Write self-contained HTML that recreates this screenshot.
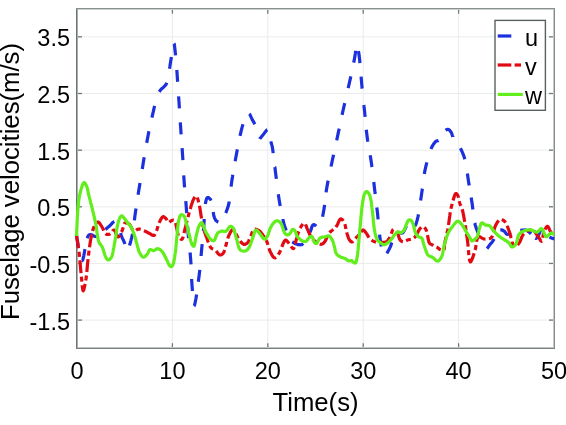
<!DOCTYPE html>
<html><head><meta charset="utf-8"><style>
html,body{margin:0;padding:0;background:#fff;}
svg{display:block;}
text{font-family:"Liberation Sans",sans-serif;fill:#000;}
svg{will-change:transform;filter:blur(0.4px);}
</style></head><body>
<svg width="566" height="425" viewBox="0 0 566 425">
<rect width="566" height="425" fill="#fff"/>
<line x1="172.40" y1="8.7" x2="172.40" y2="348.2" stroke="#eaecec" stroke-width="1"/>
<line x1="267.80" y1="8.7" x2="267.80" y2="348.2" stroke="#eaecec" stroke-width="1"/>
<line x1="363.20" y1="8.7" x2="363.20" y2="348.2" stroke="#eaecec" stroke-width="1"/>
<line x1="458.60" y1="8.7" x2="458.60" y2="348.2" stroke="#eaecec" stroke-width="1"/>
<line x1="77.0" y1="36.85" x2="554.0" y2="36.85" stroke="#eaecec" stroke-width="1"/>
<line x1="77.0" y1="93.50" x2="554.0" y2="93.50" stroke="#eaecec" stroke-width="1"/>
<line x1="77.0" y1="150.15" x2="554.0" y2="150.15" stroke="#eaecec" stroke-width="1"/>
<line x1="77.0" y1="206.80" x2="554.0" y2="206.80" stroke="#eaecec" stroke-width="1"/>
<line x1="77.0" y1="263.45" x2="554.0" y2="263.45" stroke="#eaecec" stroke-width="1"/>
<line x1="77.0" y1="320.10" x2="554.0" y2="320.10" stroke="#eaecec" stroke-width="1"/>
<line x1="77.00" y1="348.2" x2="77.00" y2="343.2" stroke="#737979" stroke-width="1.3"/>
<line x1="77.00" y1="8.7" x2="77.00" y2="13.7" stroke="#737979" stroke-width="1.3"/>
<line x1="172.40" y1="348.2" x2="172.40" y2="343.2" stroke="#737979" stroke-width="1.3"/>
<line x1="172.40" y1="8.7" x2="172.40" y2="13.7" stroke="#737979" stroke-width="1.3"/>
<line x1="267.80" y1="348.2" x2="267.80" y2="343.2" stroke="#737979" stroke-width="1.3"/>
<line x1="267.80" y1="8.7" x2="267.80" y2="13.7" stroke="#737979" stroke-width="1.3"/>
<line x1="363.20" y1="348.2" x2="363.20" y2="343.2" stroke="#737979" stroke-width="1.3"/>
<line x1="363.20" y1="8.7" x2="363.20" y2="13.7" stroke="#737979" stroke-width="1.3"/>
<line x1="458.60" y1="348.2" x2="458.60" y2="343.2" stroke="#737979" stroke-width="1.3"/>
<line x1="458.60" y1="8.7" x2="458.60" y2="13.7" stroke="#737979" stroke-width="1.3"/>
<line x1="554.00" y1="348.2" x2="554.00" y2="343.2" stroke="#737979" stroke-width="1.3"/>
<line x1="554.00" y1="8.7" x2="554.00" y2="13.7" stroke="#737979" stroke-width="1.3"/>
<line x1="77.0" y1="36.85" x2="82.0" y2="36.85" stroke="#737979" stroke-width="1.3"/>
<line x1="554.0" y1="36.85" x2="549.0" y2="36.85" stroke="#737979" stroke-width="1.3"/>
<line x1="77.0" y1="93.50" x2="82.0" y2="93.50" stroke="#737979" stroke-width="1.3"/>
<line x1="554.0" y1="93.50" x2="549.0" y2="93.50" stroke="#737979" stroke-width="1.3"/>
<line x1="77.0" y1="150.15" x2="82.0" y2="150.15" stroke="#737979" stroke-width="1.3"/>
<line x1="554.0" y1="150.15" x2="549.0" y2="150.15" stroke="#737979" stroke-width="1.3"/>
<line x1="77.0" y1="206.80" x2="82.0" y2="206.80" stroke="#737979" stroke-width="1.3"/>
<line x1="554.0" y1="206.80" x2="549.0" y2="206.80" stroke="#737979" stroke-width="1.3"/>
<line x1="77.0" y1="263.45" x2="82.0" y2="263.45" stroke="#737979" stroke-width="1.3"/>
<line x1="554.0" y1="263.45" x2="549.0" y2="263.45" stroke="#737979" stroke-width="1.3"/>
<line x1="77.0" y1="320.10" x2="82.0" y2="320.10" stroke="#737979" stroke-width="1.3"/>
<line x1="554.0" y1="320.10" x2="549.0" y2="320.10" stroke="#737979" stroke-width="1.3"/>
<rect x="76" y="8" width="1" height="341" fill="#6e7474"/>
<rect x="77" y="9" width="1" height="339" fill="#a8aeae"/>
<rect x="554" y="8" width="1" height="341" fill="#868c8c"/>
<rect x="553" y="9" width="1" height="339" fill="#c4c8c8"/>
<rect x="76" y="8" width="479" height="1" fill="#8a9090"/>
<rect x="78" y="9" width="475" height="1" fill="#ccd0d0"/>
<rect x="76" y="348" width="479" height="1" fill="#7a8080"/>
<rect x="78" y="347" width="475" height="1" fill="#c0c4c4"/>
<path d="M76.5,235.0 L76.8,237.1 L77.1,239.2 L77.5,241.3 L77.8,243.4 L78.1,245.3 L78.4,246.9 M82.1,260.4 L82.3,260.5 L82.6,260.2 L82.9,259.5 L83.1,258.5 L83.4,257.3 L83.7,256.1 L83.9,255.0 L84.2,253.6 L84.5,252.1 L84.7,250.6 L85.0,249.1 M87.1,238.2 L87.3,237.8 L87.6,237.1 L87.9,236.4 L88.2,235.8 L88.6,235.4 L89.0,235.0 L89.4,234.8 L89.7,234.7 L90.1,234.7 L90.5,234.7 L91.0,234.7 L91.4,234.8 L92.0,235.0 L92.6,235.3 L93.2,235.7 L93.8,236.0 L94.4,236.3 L95.0,236.5 L95.5,236.5 L96.0,236.5 L96.5,236.5 L96.8,236.4 M105.4,229.5 L105.8,229.2 L106.5,228.5 L107.1,228.0 L107.7,227.5 L108.3,227.0 L108.9,226.5 L109.4,226.0 L110.0,225.5 L110.6,224.9 L111.2,224.3 L111.8,223.6 L112.3,223.0 L112.9,222.4 L113.5,222.0 L113.9,221.7 L114.3,221.5 M120.6,233.0 L121.0,234.4 L121.5,236.0 L122.0,237.3 L122.6,238.6 L123.2,239.8 L123.7,241.0 L124.3,242.3 L124.8,243.5 L125.0,244.1 M129.5,245.5 L129.8,244.5 L130.2,243.2 L130.6,241.8 L131.0,240.3 L131.3,238.9 L131.7,237.4 L132.0,236.0 L132.3,234.7 L132.5,233.9 M134.4,220.4 L134.5,219.6 L134.8,217.0 L135.2,214.0 L136.0,208.5 M138.1,194.8 L138.6,191.4 L140.0,183.0 M142.3,169.0 L143.4,161.8 L144.2,157.2 M146.7,142.9 L147.8,137.0 L148.8,131.9 L149.0,131.2 M151.9,117.6 L152.4,115.4 L153.3,111.7 L153.9,108.9 L154.5,106.3 L154.6,105.9 M159.3,91.9 L159.9,90.9 L160.5,90.0 L161.0,89.4 L161.4,89.0 L161.9,88.6 L162.4,88.2 L162.9,87.8 L163.4,87.3 L163.9,86.7 L164.5,86.2 L165.0,85.6 L165.6,85.0 L166.1,84.3 L166.5,83.5 L166.8,82.7 M169.5,68.8 L169.8,67.1 L170.1,65.0 L170.4,63.0 L170.7,61.0 L171.1,58.9 L171.4,57.0 M174.0,43.5 L174.2,43.8 L174.4,44.6 L174.5,45.8 L174.7,47.2 L174.8,48.8 L175.0,50.3 L175.4,53.6 L175.5,55.4 M176.7,69.9 L176.9,71.2 L177.2,75.7 L177.5,80.1 L177.7,81.8 M178.6,96.4 L178.7,97.8 L179.0,102.2 L179.3,106.5 L179.4,108.4 M180.3,122.4 L180.4,123.9 L180.7,128.2 L181.0,132.5 L181.1,134.4 M182.1,148.2 L182.2,149.7 L182.5,154.0 L182.8,158.5 L182.9,160.2 M183.7,175.3 L183.8,176.5 L184.1,181.0 L184.4,185.3 L184.6,187.3 M185.8,201.2 L185.9,202.3 L186.2,206.5 L186.5,210.7 L186.7,213.2 M187.5,226.0 L187.7,227.7 L188.0,232.0 L188.4,236.4 L188.6,238.0 M190.1,252.5 L190.2,254.0 L190.6,258.4 L190.9,262.9 L191.0,264.4 M191.6,279.0 L191.7,280.7 L192.0,285.0 L192.3,289.1 L192.4,291.0 M194.0,306.0 L194.2,305.8 L194.4,305.3 L194.7,304.5 L194.9,303.5 L195.2,302.4 L195.4,301.3 L196.0,298.2 L196.6,294.4 M198.3,281.8 L198.5,280.3 L199.1,275.8 L199.6,271.5 L199.8,269.9 M201.1,256.0 L201.2,254.3 L201.6,250.0 L202.0,245.7 L202.2,244.1 M203.4,231.0 L203.6,228.8 L203.9,224.7 L204.1,221.0 L204.2,219.0 M205.3,204.0 L205.6,202.6 L205.9,201.1 L206.2,199.8 L206.6,198.7 L207.0,197.9 L207.5,197.5 L207.9,197.5 L208.5,197.6 L209.0,198.0 L209.5,198.4 L210.1,198.9 L210.5,199.5 L211.0,200.6 M213.2,211.9 L213.4,213.2 L213.7,214.9 L214.0,216.4 L214.5,217.8 L215.0,219.0 L215.5,219.8 L216.0,220.5 L216.7,221.1 L217.3,221.6 L217.9,222.0 L218.3,222.2 M225.7,213.0 L226.2,211.9 L226.8,210.3 L227.4,208.6 L228.0,206.9 L228.5,205.0 L229.0,203.0 L229.3,201.5 M231.1,186.6 L231.3,184.9 L231.8,181.0 L232.5,176.8 L232.8,174.7 M235.2,161.2 L235.5,159.3 L236.3,155.0 L237.1,150.6 L237.4,149.4 M240.0,135.8 L240.7,133.0 L241.5,129.5 L242.0,127.6 L242.5,125.9 L243.0,124.2 M249.1,113.9 L249.6,114.3 L250.2,115.1 L250.7,116.1 L251.2,117.3 L251.7,118.4 L252.2,119.5 L252.7,120.5 L253.3,121.4 L253.8,122.3 L254.3,123.3 L254.8,124.3 M259.7,138.9 L259.8,138.7 L260.7,137.8 L261.6,136.6 L262.5,135.5 L263.3,134.5 L264.0,133.7 L264.6,132.8 L265.2,132.0 L265.8,131.2 L266.4,130.5 L266.9,130.0 L267.2,129.8 L267.4,129.7 M270.8,141.4 L271.1,142.4 L271.3,143.3 L271.6,144.1 L271.8,144.9 L272.1,145.9 L272.3,147.0 L272.8,150.1 L273.2,153.1 M274.8,167.0 L274.9,167.1 L275.4,171.5 L276.0,176.1 L276.3,178.9 M278.3,194.2 L278.4,194.9 L279.1,199.5 L279.8,203.8 L280.2,206.0 M282.8,219.0 L283.2,220.7 L284.1,224.2 L284.7,226.3 L285.4,228.3 L286.0,230.1 L286.1,230.5 M292.3,241.8 L292.5,241.9 L293.3,242.6 L294.2,243.1 L295.1,243.6 L296.0,244.0 L297.0,244.3 L298.0,244.6 L299.1,244.7 L300.2,244.8 L301.2,244.7 L302.1,244.4 L302.9,243.8 L303.2,243.5 M309.9,232.4 L310.5,231.0 L311.1,229.4 L311.6,227.8 L312.1,226.3 L312.7,225.2 L313.4,224.6 L314.0,224.6 L314.6,224.9 L315.2,225.3 L315.8,225.8 L316.2,226.2 M322.6,216.8 L322.9,215.0 L323.5,211.8 L324.2,207.9 L324.6,204.9 M326.1,192.4 L326.3,190.8 L327.0,186.5 L327.8,182.1 L328.1,180.6 M331.0,166.5 L331.5,164.4 L332.4,160.0 L333.3,155.8 L333.5,154.8 M336.7,140.4 L337.0,138.9 L337.9,134.7 L338.8,130.4 L339.2,128.6 M342.1,114.9 L342.5,112.9 L343.5,108.5 L344.5,104.1 L344.7,103.2 M348.2,88.1 L348.5,86.7 L349.5,82.4 L350.5,77.9 L350.8,76.4 M353.7,62.6 L354.2,60.2 L354.8,57.0 L355.0,55.8 L355.1,54.7 L355.3,53.8 L355.4,52.9 L355.5,52.0 L355.6,51.0 L355.6,50.7 M358.4,51.2 L358.6,52.0 L358.7,52.9 L358.9,53.8 L359.0,54.7 L359.1,55.8 L359.3,57.0 L359.7,60.3 L359.9,63.1 M361.1,76.7 L361.3,79.0 L361.7,83.7 L362.1,88.2 L362.2,88.6 M363.9,105.0 L364.0,106.2 L364.5,110.6 L364.9,114.8 L365.1,116.9 M366.3,129.8 L366.5,131.6 L367.0,135.8 L367.6,140.2 L367.9,141.7 M370.2,155.2 L370.6,157.8 L371.3,162.2 L371.9,166.6 L372.0,167.0 M373.8,182.0 L374.0,184.0 L374.5,188.3 L375.0,192.6 L375.2,193.9 M376.8,207.5 L377.1,209.7 L377.6,214.0 L378.0,218.4 L378.1,219.4 M379.6,234.7 L379.7,236.0 L380.3,240.0 L380.8,243.2 L381.3,246.6 M386.8,253.3 L387.7,251.9 L388.6,250.3 L389.4,248.8 L390.1,247.4 L390.7,245.9 L391.2,244.4 L391.7,242.9 L391.9,242.5 M398.6,232.8 L398.7,232.8 L399.5,232.9 L400.2,233.0 L401.0,233.2 L401.7,233.2 L402.4,233.0 L403.3,232.2 L404.1,230.9 L404.8,229.3 L405.6,227.7 L406.3,226.2 L406.4,226.0 M414.9,225.8 L415.1,225.7 L415.6,224.9 L416.0,223.9 L416.4,222.7 L416.8,221.4 L417.2,220.0 L418.0,216.7 L418.5,214.4 M420.6,200.5 L421.0,197.9 L421.7,193.3 L422.3,189.1 L422.4,188.6 M424.4,174.0 L424.6,172.3 L425.4,168.4 L426.2,164.9 L426.9,162.3 M431.0,149.0 L431.5,147.8 L432.0,146.8 L432.5,145.9 L433.0,145.0 L433.5,144.2 L434.0,143.5 L434.4,143.0 L434.8,142.5 L435.2,142.0 L435.6,141.6 L436.0,141.3 L436.4,141.0 L436.7,140.9 L437.1,140.8 L437.5,140.8 L437.8,140.7 L438.2,140.7 L438.5,140.5 L438.5,140.5 M445.5,130.2 L446.0,129.9 L446.5,129.7 L447.0,129.5 L447.5,129.4 L448.0,129.4 L448.5,129.5 L449.0,129.7 L449.4,130.0 L449.8,130.4 L450.2,130.9 L450.6,131.5 L451.0,132.0 L451.4,132.8 L451.8,133.7 L452.1,134.7 L452.5,135.8 L452.9,136.8 L452.9,136.9 M460.4,148.2 L461.2,149.8 L462.0,151.5 L462.8,153.4 L463.6,155.3 L464.3,157.4 L464.9,159.3 M467.4,173.6 L467.8,176.4 L468.3,180.0 L468.9,183.9 L469.2,185.5 M471.2,197.6 L471.6,200.2 L472.2,204.0 L472.6,207.3 L472.9,209.4 M474.7,223.0 L474.8,223.2 L475.0,224.2 L475.3,225.2 L475.6,226.1 L475.9,227.0 L476.2,228.0 L476.6,229.1 L477.1,230.3 L477.5,231.4 L478.0,232.6 L478.5,233.8 L478.7,234.3 M487.0,248.6 L487.7,247.8 L488.4,246.7 L489.2,245.6 L489.9,244.7 L490.5,243.9 L491.2,243.2 L491.8,242.5 L492.4,241.7 L492.9,240.9 L493.5,240.0 L494.1,238.9 M500.3,229.8 L500.9,229.8 L501.5,229.9 L502.2,230.1 L502.8,230.3 L503.4,230.7 L504.0,231.0 L504.6,231.5 L505.1,232.2 L505.6,232.9 L506.1,233.6 L506.6,234.1 L507.2,234.4 L507.9,234.3 L508.7,234.0 L509.4,233.5 L510.1,233.0 M520.4,230.6 L521.1,230.4 L522.3,230.2 L523.5,230.0 L524.6,229.9 L525.6,230.0 L526.3,230.2 L526.8,230.5 L527.4,230.8 L527.9,231.2 L528.5,231.6 L529.0,232.0 L529.7,232.6 L530.4,233.2 L531.0,233.9 M535.3,238.3 L535.5,238.4 L536.0,238.5 L536.5,238.2 L537.1,237.6 L537.6,236.8 L538.0,235.9 L538.5,234.9 L539.0,234.0 L539.5,232.9 L540.0,231.5 L540.5,230.1 L540.9,228.8 L541.0,228.6 M549.6,236.9 L550.3,237.4 L550.9,237.8 L551.6,238.1 L552.3,238.3 L553.0,238.5 L553.6,238.8 L554.3,239.0" fill="none" stroke="#1c30de" stroke-width="3.2" stroke-linejoin="round"/>
<polyline points="76.5,235.5 76.9,238.2 77.3,240.9 77.8,243.5 78.2,246.2 78.6,249.0 79.0,252.0 79.5,256.1 79.9,260.6 80.3,265.2 80.7,269.8 81.1,274.1 81.5,278.0 81.8,280.7 82.0,283.5 82.3,286.3 82.6,288.6 82.9,290.2 83.2,290.8 83.5,290.4 83.9,289.4 84.3,287.8 84.7,286.0 85.1,284.0 85.5,282.0 86.1,278.3 86.6,273.9 87.1,269.0 87.5,264.1 88.0,259.3 88.5,255.0 88.9,251.9 89.3,248.9 89.7,246.0 90.1,243.2 90.5,240.6 91.0,238.0 91.4,236.0 91.8,234.0 92.3,232.0 92.8,230.2 93.3,228.5 94.0,227.0 94.6,225.9 95.2,224.8 95.9,223.7 96.6,222.8 97.3,222.2 98.0,222.0 98.7,222.2 99.3,222.9 100.0,223.8 100.7,224.9 101.4,226.0 102.0,227.0 102.7,228.2 103.3,229.5 103.9,230.9 104.5,232.2 105.2,233.3 106.0,234.0 106.6,234.3 107.3,234.4 108.0,234.4 108.7,234.4 109.4,234.2 110.0,234.0 110.7,233.5 111.4,232.7 112.1,231.7 112.7,230.8 113.4,230.2 114.0,230.0 114.7,230.6 115.4,231.9 116.0,233.6 116.7,235.2 117.3,236.5 118.0,237.0 118.7,236.7 119.4,236.0 120.1,234.8 120.7,233.6 121.4,232.2 122.0,231.0 122.5,229.6 123.0,228.0 123.4,226.4 123.8,224.9 124.3,223.7 125.0,223.0 125.6,222.8 126.2,222.8 126.9,223.0 127.6,223.2 128.3,223.6 129.0,224.0 129.9,224.9 130.7,226.3 131.5,227.8 132.3,229.2 133.1,230.4 134.0,231.0 134.7,231.0 135.5,230.7 136.2,230.2 137.0,229.6 137.8,229.2 138.6,229.0 139.5,229.1 140.4,229.3 141.4,229.6 142.3,230.0 143.3,230.4 144.2,230.8 145.2,231.2 146.2,231.7 147.1,232.2 148.1,232.8 149.0,233.2 149.9,233.7 150.6,234.1 151.3,234.5 151.9,235.0 152.6,235.3 153.1,235.5 153.7,235.5 154.3,235.2 154.8,234.5 155.2,233.7 155.7,232.8 156.1,231.8 156.5,230.8 157.0,229.5 157.4,228.1 157.9,226.6 158.3,225.1 158.7,223.7 159.3,222.4 159.9,221.2 160.5,220.0 161.1,218.8 161.8,217.8 162.4,217.1 163.1,216.7 163.6,216.7 164.0,216.9 164.5,217.3 165.0,217.7 165.5,218.2 165.9,218.6 166.4,219.2 166.9,220.0 167.3,220.8 167.7,221.6 168.2,222.1 168.7,222.4 169.2,222.3 169.6,222.0 170.1,221.6 170.6,221.2 171.1,220.8 171.6,220.5 172.1,220.4 172.6,220.3 173.1,220.2 173.6,220.2 174.0,220.3 174.4,220.5 174.9,221.0 175.2,221.8 175.5,222.8 175.8,223.8 176.0,225.0 176.3,226.1 176.7,227.9 177.1,229.9 177.5,232.1 177.9,234.2 178.5,236.1 179.1,237.4 179.5,238.0 180.0,238.5 180.5,238.9 181.0,239.2 181.5,239.3 181.9,239.3 182.5,238.7 183.0,237.4 183.5,235.7 183.9,233.7 184.3,231.7 184.7,229.9 185.2,228.1 185.7,226.2 186.1,224.4 186.6,222.5 187.1,220.5 187.6,218.6 188.2,216.4 188.8,214.1 189.4,211.8 190.0,209.5 190.7,207.4 191.3,205.4 191.7,204.1 192.2,202.8 192.6,201.6 193.0,200.4 193.5,199.4 194.0,198.5 194.4,197.9 194.7,197.3 195.1,196.8 195.5,196.3 195.8,196.1 196.2,196.0 196.7,196.4 197.2,197.4 197.7,198.8 198.2,200.4 198.6,202.1 199.0,203.7 199.5,206.0 200.0,208.5 200.4,211.2 200.8,213.9 201.2,216.5 201.6,219.0 202.0,221.0 202.4,222.9 202.7,224.7 203.1,226.6 203.5,228.3 204.0,230.0 204.4,231.4 204.8,232.6 205.3,233.9 205.7,235.1 206.2,236.4 206.7,237.7 207.3,239.4 207.9,241.3 208.6,243.2 209.3,245.0 210.1,246.6 211.0,247.8 211.6,248.4 212.3,248.7 213.0,249.0 213.8,249.3 214.5,249.6 215.2,250.0 216.0,250.8 216.8,251.8 217.6,252.9 218.4,253.9 219.2,254.6 220.0,255.0 220.6,255.0 221.1,254.9 221.7,254.6 222.2,254.2 222.7,253.8 223.2,253.3 223.8,252.3 224.3,251.1 224.8,249.6 225.2,248.0 225.6,246.5 226.0,245.0 226.4,243.6 226.8,242.1 227.1,240.6 227.5,239.2 228.0,237.8 228.5,236.4 229.1,235.0 229.9,233.4 230.7,231.8 231.5,230.5 232.3,229.6 233.0,229.2 233.5,229.4 234.0,230.1 234.5,231.0 235.0,232.0 235.5,233.1 236.0,234.0 236.5,234.9 237.0,235.8 237.4,236.7 237.9,237.6 238.4,238.5 239.0,239.4 239.7,240.4 240.5,241.4 241.4,242.5 242.3,243.4 243.2,244.1 244.0,244.4 244.6,244.4 245.2,244.3 245.8,244.0 246.3,243.7 246.9,243.3 247.4,242.8 248.1,242.0 248.7,240.9 249.2,239.7 249.7,238.5 250.3,237.2 250.8,236.0 251.3,234.8 251.8,233.4 252.3,232.0 252.9,230.8 253.5,229.8 254.2,229.2 255.0,229.1 255.8,229.2 256.7,229.5 257.6,229.9 258.5,230.4 259.3,230.9 260.0,231.4 260.6,232.1 261.2,232.8 261.7,233.5 262.3,234.3 262.8,235.0 263.4,235.8 264.0,236.5 264.5,237.3 265.1,238.2 265.7,239.1 266.2,240.1 266.9,241.8 267.6,243.8 268.2,246.0 268.9,248.2 269.6,250.2 270.4,252.0 271.1,253.3 271.7,254.6 272.5,255.8 273.2,256.9 274.0,257.6 274.7,257.9 275.4,257.8 276.1,257.3 276.8,256.6 277.5,255.7 278.2,254.7 278.9,253.7 279.8,252.0 280.8,249.8 281.6,247.5 282.5,245.2 283.3,243.2 284.0,241.8 284.3,241.4 284.6,241.0 284.8,240.6 285.1,240.3 285.4,240.2 285.7,240.1 286.2,240.3 286.7,240.7 287.3,241.3 287.9,242.0 288.5,242.8 289.1,243.5 289.8,244.4 290.5,245.5 291.3,246.7 292.0,247.7 292.7,248.4 293.3,248.6 293.9,248.2 294.3,247.2 294.7,245.8 295.1,244.2 295.5,242.5 295.9,241.0 296.5,239.0 297.2,236.7 297.8,234.4 298.5,232.1 299.3,230.0 300.1,228.2 300.8,227.0 301.5,225.9 302.2,224.8 302.9,223.9 303.6,223.3 304.3,223.1 304.9,223.5 305.5,224.4 306.0,225.7 306.6,227.1 307.1,228.6 307.7,229.9 308.4,231.3 309.0,232.8 309.7,234.3 310.4,235.8 311.2,237.2 312.0,238.4 312.8,239.3 313.6,240.1 314.5,240.8 315.4,241.5 316.2,242.1 317.1,242.6 317.8,243.0 318.5,243.4 319.2,243.8 320.0,244.1 320.6,244.3 321.3,244.3 321.9,244.1 322.5,243.9 323.1,243.5 323.6,243.0 324.2,242.4 324.7,241.8 325.4,240.7 326.1,239.3 326.7,237.8 327.3,236.2 328.0,234.6 328.9,233.3 329.9,232.2 331.0,231.2 332.3,230.3 333.5,229.4 334.6,228.5 335.7,227.4 336.7,225.9 337.6,224.2 338.4,222.3 339.2,220.7 340.0,219.4 340.8,218.9 341.4,219.0 342.0,219.4 342.6,220.0 343.2,220.7 343.7,221.5 344.2,222.3 344.8,223.6 345.2,225.2 345.5,226.9 345.9,228.6 346.2,230.4 346.6,232.0 347.0,233.5 347.5,235.0 347.9,236.4 348.4,237.8 348.9,239.0 349.5,240.0 349.9,240.5 350.3,241.0 350.7,241.4 351.1,241.7 351.6,241.9 352.0,242.0 352.5,241.8 353.1,241.3 353.6,240.7 354.2,239.9 354.7,239.2 355.3,238.5 356.0,237.8 356.7,237.1 357.5,236.4 358.2,235.7 358.9,235.0 359.6,234.3 360.2,233.5 360.8,232.6 361.3,231.7 361.9,230.8 362.4,230.2 363.0,230.0 363.6,230.1 364.1,230.6 364.7,231.2 365.3,231.9 365.9,232.7 366.4,233.4 367.0,234.2 367.5,235.1 368.0,236.0 368.5,236.9 369.1,237.8 369.7,238.5 370.3,239.1 370.9,239.6 371.5,240.0 372.2,240.5 372.8,240.9 373.5,241.2 374.1,241.5 374.7,241.7 375.3,241.9 375.9,242.1 376.5,242.3 377.1,242.4 377.8,242.5 378.6,242.5 379.4,242.5 380.2,242.5 381.0,242.5 381.8,242.4 382.6,242.4 383.4,242.4 384.2,242.4 385.0,242.3 385.8,242.1 386.5,241.8 387.2,241.3 387.8,240.6 388.4,239.8 388.9,238.9 389.5,238.0 390.0,237.1 390.6,235.8 391.2,234.2 391.7,232.5 392.2,231.1 392.8,229.9 393.5,229.4 394.1,229.4 394.7,229.8 395.3,230.3 395.9,230.9 396.5,231.7 397.1,232.4 397.8,233.6 398.3,235.1 398.8,236.7 399.3,238.3 399.9,239.6 400.6,240.6 401.1,241.0 401.7,241.3 402.3,241.6 402.9,241.7 403.5,241.8 404.1,241.8 404.7,241.7 405.2,241.4 405.8,241.0 406.4,240.7 407.0,240.3 407.6,240.0 408.4,239.8 409.2,239.6 410.0,239.5 410.9,239.3 411.7,239.1 412.4,238.8 413.1,238.4 413.7,238.0 414.3,237.6 414.8,237.1 415.4,236.5 415.9,235.9 416.5,235.0 417.1,233.8 417.6,232.7 418.2,231.5 418.8,230.3 419.4,229.4 419.9,228.7 420.5,228.1 421.1,227.5 421.7,226.9 422.3,226.6 422.9,226.5 423.4,226.6 424.0,227.0 424.5,227.5 425.0,228.1 425.5,228.7 425.9,229.4 426.3,230.3 426.6,231.3 426.9,232.4 427.1,233.6 427.3,234.8 427.6,235.9 427.9,237.1 428.1,238.4 428.3,239.7 428.6,240.9 428.9,242.0 429.4,242.9 429.8,243.4 430.3,243.8 430.8,244.1 431.4,244.4 431.9,244.7 432.5,245.0 433.2,245.3 433.9,245.7 434.6,246.0 435.3,246.3 436.0,246.6 436.7,247.0 437.3,247.4 437.9,247.9 438.4,248.3 439.0,248.8 439.5,249.2 440.1,249.5 440.7,249.7 441.3,250.0 442.0,250.1 442.6,250.2 443.1,250.2 443.6,250.0 444.0,249.4 444.3,248.6 444.4,247.5 444.4,246.2 444.5,244.8 444.7,243.5 445.2,241.2 445.7,238.6 446.4,235.7 447.0,232.8 447.7,229.8 448.2,227.0 448.6,224.2 449.0,221.4 449.4,218.6 449.8,215.8 450.1,213.2 450.6,210.6 451.0,208.5 451.5,206.4 452.0,204.4 452.5,202.5 453.0,200.7 453.5,199.0 453.9,197.8 454.2,196.6 454.6,195.5 455.0,194.5 455.4,193.8 455.8,193.5 456.1,193.5 456.5,193.7 456.8,194.1 457.2,194.5 457.5,195.0 457.8,195.5 458.2,196.5 458.6,197.7 458.9,199.1 459.1,200.5 459.4,201.9 459.8,203.2 460.2,204.3 460.6,205.3 461.0,206.3 461.5,207.4 461.9,208.5 462.3,209.7 462.8,211.5 463.2,213.5 463.6,215.6 464.0,217.8 464.4,220.1 464.8,222.4 465.3,225.1 465.7,228.0 466.1,230.9 466.5,233.9 467.0,236.9 467.4,240.0 467.9,244.0 468.3,248.7 468.7,253.5 469.1,257.7 469.7,260.7 470.4,261.9 471.1,261.4 471.8,259.9 472.7,257.7 473.5,255.2 474.3,252.7 475.0,250.4 475.6,248.0 476.0,245.2 476.5,242.3 476.9,239.8 477.6,237.8 478.5,236.7 479.3,236.6 480.2,236.9 481.1,237.5 482.1,238.1 483.2,238.7 484.2,239.0 485.3,239.1 486.5,239.1 487.8,239.1 489.0,238.8 490.1,238.4 491.1,237.8 492.2,236.4 493.0,234.3 493.6,232.0 494.2,229.5 494.9,227.1 495.7,225.2 496.4,223.9 497.1,222.7 497.9,221.5 498.7,220.5 499.5,219.8 500.3,219.4 501.0,219.4 501.8,219.5 502.6,219.9 503.4,220.4 504.2,221.0 504.9,221.7 505.8,222.9 506.7,224.5 507.4,226.3 508.1,228.2 508.8,230.2 509.5,232.1 510.3,234.5 510.9,237.4 511.6,240.2 512.3,242.9 513.1,244.9 514.1,245.9 514.8,246.0 515.6,245.8 516.4,245.5 517.2,244.9 518.0,244.3 518.7,243.6 519.6,242.4 520.3,240.9 521.0,239.1 521.7,237.3 522.5,235.7 523.3,234.4 524.0,233.6 524.7,232.9 525.5,232.3 526.3,231.8 527.1,231.3 527.9,230.9 528.6,230.5 529.4,230.2 530.2,229.9 531.0,229.7 531.8,229.7 532.5,229.8 533.5,230.4 534.5,231.4 535.5,232.7 536.4,234.1 537.4,235.5 538.2,236.7 538.8,237.6 539.5,238.7 540.1,239.7 540.6,240.6 541.1,241.1 541.6,241.3 542.1,240.7 542.5,239.4 542.8,237.6 543.1,235.6 543.4,233.7 543.9,232.1 544.4,230.9 545.0,229.6 545.6,228.4 546.2,227.3 546.8,226.6 547.4,226.3 548.0,226.6 548.5,227.4 549.1,228.6 549.6,229.9 550.2,231.1 550.8,232.1 551.4,232.7 551.9,233.3 552.5,233.9 553.1,234.4 553.7,234.9 554.3,235.5" fill="none" stroke="#e20a12" stroke-width="3.2" stroke-dasharray="13 3.5 5 3.5" stroke-linejoin="round"/>
<polyline points="76.5,236.0 76.7,232.5 76.8,228.9 77.0,225.3 77.1,221.8 77.3,218.3 77.5,215.0 77.7,212.2 77.9,209.4 78.1,206.7 78.4,204.0 78.6,201.5 79.0,199.0 79.3,197.0 79.7,195.0 80.1,193.1 80.5,191.3 81.0,189.6 81.5,188.0 81.9,186.8 82.3,185.6 82.7,184.5 83.1,183.5 83.5,182.8 84.0,182.5 84.4,182.6 84.8,183.0 85.3,183.6 85.7,184.4 86.1,185.2 86.5,186.0 87.0,187.3 87.5,188.9 87.8,190.7 88.2,192.5 88.6,194.3 89.0,196.0 89.4,197.7 89.9,199.3 90.3,201.0 90.7,202.7 91.2,204.3 91.6,206.0 92.0,207.7 92.4,209.3 92.8,211.0 93.2,212.7 93.6,214.3 94.0,216.0 94.4,217.6 94.7,219.2 95.1,220.8 95.5,222.4 95.8,224.1 96.1,225.7 96.4,227.4 96.6,229.2 96.8,231.0 97.0,232.7 97.2,234.4 97.5,236.0 97.7,237.2 98.0,238.4 98.2,239.6 98.5,240.7 98.9,241.8 99.3,242.8 99.7,243.6 100.3,244.3 100.8,245.0 101.4,245.7 101.9,246.5 102.4,247.3 102.9,248.6 103.4,250.0 103.8,251.6 104.2,253.1 104.7,254.5 105.2,255.8 105.6,256.7 106.1,257.6 106.5,258.5 107.0,259.2 107.5,259.7 108.0,260.0 108.6,259.9 109.2,259.7 109.8,259.2 110.4,258.6 111.0,257.9 111.5,257.2 112.0,256.1 112.4,254.9 112.7,253.5 113.0,252.0 113.2,250.5 113.5,249.0 113.9,247.3 114.2,245.4 114.5,243.6 114.9,241.7 115.2,239.8 115.5,238.0 115.8,236.3 116.0,234.6 116.2,232.9 116.5,231.2 116.7,229.6 117.0,228.0 117.3,226.7 117.5,225.3 117.8,224.0 118.1,222.8 118.4,221.6 118.8,220.5 119.2,219.5 119.6,218.5 120.1,217.5 120.6,216.7 121.1,216.1 121.6,215.8 122.1,215.9 122.5,216.2 123.0,216.8 123.5,217.4 124.0,218.0 124.5,218.6 125.0,219.2 125.4,219.8 125.9,220.4 126.3,221.1 126.8,221.7 127.3,222.4 127.9,223.1 128.6,223.9 129.2,224.6 129.9,225.4 130.5,226.2 131.1,227.1 131.7,228.1 132.2,229.1 132.6,230.2 133.0,231.3 133.5,232.5 133.9,233.7 134.4,235.2 134.9,236.7 135.3,238.3 135.8,239.9 136.2,241.5 136.7,243.1 137.1,244.7 137.5,246.4 138.0,248.0 138.4,249.6 138.9,251.2 139.5,252.5 140.0,253.5 140.6,254.6 141.3,255.5 141.9,256.3 142.6,256.9 143.3,257.2 143.9,257.1 144.6,256.8 145.2,256.3 145.9,255.7 146.5,255.0 147.1,254.4 147.6,253.6 148.1,252.7 148.5,251.8 148.9,250.9 149.3,250.1 149.9,249.7 150.5,249.6 151.1,249.8 151.7,250.0 152.4,250.3 153.1,250.6 153.7,250.6 154.3,250.4 154.9,250.0 155.6,249.6 156.2,249.2 156.8,248.8 157.4,248.7 158.0,248.8 158.7,249.0 159.4,249.3 160.0,249.7 160.6,250.1 161.2,250.6 161.7,251.1 162.2,251.7 162.7,252.3 163.1,253.0 163.6,253.7 164.0,254.4 164.5,255.3 164.9,256.2 165.4,257.1 165.8,258.1 166.3,259.0 166.8,260.0 167.4,261.2 168.0,262.6 168.7,264.0 169.3,265.2 170.0,266.1 170.6,266.6 170.9,266.7 171.3,266.6 171.6,266.5 171.9,266.3 172.2,266.0 172.5,265.7 173.1,264.4 173.7,262.6 174.1,260.2 174.6,257.7 174.9,255.0 175.3,252.5 175.7,249.5 176.0,246.4 176.3,243.2 176.6,239.9 176.9,236.8 177.2,233.7 177.5,231.0 177.7,228.2 178.0,225.4 178.3,222.8 178.7,220.5 179.1,218.6 179.4,217.7 179.6,216.9 179.9,216.2 180.2,215.6 180.6,215.1 181.0,214.8 181.4,214.7 181.9,214.7 182.4,214.9 182.9,215.1 183.4,215.4 183.8,215.8 184.4,216.7 184.9,217.9 185.4,219.4 185.8,221.0 186.2,222.6 186.6,224.2 187.1,226.0 187.6,227.9 188.0,229.8 188.5,231.7 188.9,233.7 189.4,235.5 189.9,237.2 190.3,239.1 190.8,240.9 191.3,242.5 191.8,244.0 192.3,245.0 192.5,245.4 192.8,245.7 193.1,246.0 193.3,246.2 193.6,246.3 193.8,246.3 194.2,245.7 194.6,244.5 195.0,242.7 195.3,240.8 195.6,238.8 196.0,237.0 196.4,235.1 196.9,233.1 197.4,231.1 197.9,229.2 198.4,227.4 199.0,226.0 199.4,225.2 199.8,224.4 200.3,223.7 200.7,223.2 201.2,222.8 201.6,222.7 202.2,223.2 202.9,224.4 203.5,226.1 204.1,227.9 204.8,229.7 205.4,231.2 205.9,232.2 206.4,233.1 206.9,234.0 207.5,234.9 208.0,235.7 208.5,236.5 208.9,237.1 209.3,237.7 209.7,238.3 210.2,238.8 210.6,239.3 211.1,239.7 211.5,240.0 212.0,240.3 212.5,240.5 213.0,240.7 213.5,240.7 213.9,240.6 214.6,239.9 215.2,238.7 215.8,237.2 216.3,235.6 217.0,234.2 217.7,233.1 218.3,232.6 218.8,232.2 219.5,231.9 220.1,231.6 220.7,231.4 221.4,231.2 222.2,231.1 223.0,231.2 223.8,231.3 224.6,231.4 225.4,231.4 226.1,231.2 226.8,230.6 227.5,229.7 228.1,228.7 228.7,227.7 229.3,226.9 229.9,226.5 230.4,226.4 230.8,226.4 231.3,226.5 231.8,226.7 232.3,227.0 232.7,227.4 233.5,228.5 234.1,230.2 234.8,232.3 235.3,234.5 235.9,236.7 236.5,238.7 237.1,240.7 237.6,242.9 238.1,245.1 238.7,247.1 239.4,248.8 240.3,250.0 241.0,250.5 241.8,250.8 242.6,251.0 243.4,251.1 244.3,251.1 245.0,251.0 245.7,250.8 246.3,250.4 247.0,250.0 247.6,249.4 248.1,248.8 248.7,248.1 249.4,246.9 250.1,245.4 250.7,243.8 251.3,242.0 251.9,240.3 252.5,238.7 253.1,237.1 253.6,235.2 254.1,233.4 254.7,231.7 255.3,230.5 256.0,230.0 256.6,230.1 257.3,230.7 258.0,231.5 258.8,232.4 259.5,233.4 260.2,234.2 260.9,235.1 261.7,236.2 262.4,237.3 263.1,238.2 263.8,238.9 264.5,239.2 265.0,239.1 265.5,238.8 266.0,238.3 266.4,237.7 266.9,237.1 267.3,236.4 267.8,235.3 268.3,234.1 268.7,232.6 269.2,231.2 269.6,229.8 270.1,228.6 270.5,227.7 271.0,226.8 271.5,226.0 271.9,225.2 272.4,224.4 273.0,223.7 273.5,223.1 274.1,222.5 274.7,221.9 275.3,221.4 275.9,221.0 276.5,220.8 277.1,220.8 277.7,220.9 278.3,221.1 278.9,221.4 279.5,221.8 280.0,222.2 280.4,222.7 280.8,223.2 281.2,223.8 281.5,224.4 281.8,225.1 282.1,225.8 282.5,226.8 282.8,227.9 283.1,229.0 283.4,230.1 283.8,231.2 284.2,232.1 284.6,232.7 285.1,233.4 285.6,234.0 286.1,234.5 286.6,234.8 287.1,235.0 287.6,235.0 288.0,234.8 288.5,234.6 289.0,234.3 289.5,233.9 289.9,233.5 290.4,232.9 290.9,232.0 291.3,231.1 291.8,230.3 292.2,229.6 292.7,229.3 293.0,229.3 293.4,229.4 293.8,229.7 294.1,230.0 294.5,230.3 294.8,230.7 295.2,231.3 295.6,232.2 295.9,233.1 296.2,234.0 296.6,234.9 297.0,235.7 297.4,236.4 297.8,237.0 298.3,237.6 298.8,238.2 299.3,238.7 299.8,239.2 300.3,239.6 300.9,240.1 301.5,240.5 302.1,240.8 302.7,241.1 303.3,241.3 303.8,241.4 304.3,241.5 304.7,241.5 305.2,241.5 305.7,241.5 306.1,241.3 306.6,240.9 307.1,240.4 307.6,239.7 308.0,239.0 308.5,238.3 309.0,237.8 309.5,237.4 309.9,237.1 310.4,236.7 310.9,236.5 311.4,236.4 311.8,236.4 312.4,236.9 312.8,238.0 313.2,239.3 313.7,240.7 314.1,241.9 314.6,242.7 314.9,243.0 315.2,243.2 315.5,243.4 315.9,243.5 316.2,243.6 316.5,243.5 317.0,243.0 317.6,242.2 318.1,241.0 318.6,239.8 319.3,238.8 320.0,238.0 320.8,237.6 321.7,237.3 322.7,237.1 323.7,237.0 324.6,236.9 325.5,236.7 326.1,236.5 326.7,236.3 327.3,236.1 327.8,235.9 328.4,235.8 328.9,235.9 329.5,236.3 330.2,236.8 330.8,237.6 331.3,238.4 331.8,239.3 332.3,240.1 332.7,241.0 333.1,241.9 333.4,242.9 333.6,243.8 333.9,244.9 334.2,245.9 334.6,247.2 334.9,248.7 335.2,250.2 335.5,251.6 336.0,252.9 336.6,254.0 337.2,254.7 337.8,255.3 338.5,255.8 339.3,256.3 340.1,256.7 340.8,257.1 341.5,257.4 342.2,257.6 342.9,257.8 343.6,258.0 344.3,258.2 345.0,258.5 345.7,258.9 346.4,259.4 347.1,259.9 347.7,260.4 348.4,260.8 349.0,261.0 349.4,261.0 349.9,260.9 350.3,260.7 350.7,260.6 351.1,260.5 351.5,260.5 351.8,260.6 352.0,260.9 352.3,261.2 352.5,261.5 352.7,261.8 353.0,262.0 353.4,262.3 353.8,262.5 354.2,262.8 354.6,263.0 355.1,263.1 355.4,263.0 355.8,262.6 356.1,262.0 356.4,261.1 356.6,260.1 356.8,259.1 357.0,258.0 357.3,256.2 357.6,254.2 357.8,252.0 358.1,249.7 358.3,247.4 358.5,245.0 358.8,242.2 359.0,239.3 359.3,236.3 359.5,233.3 359.8,230.2 360.1,227.0 360.5,223.1 360.8,219.0 361.2,214.8 361.6,210.7 362.0,206.9 362.5,203.5 362.8,201.5 363.1,199.6 363.4,197.8 363.8,196.2 364.2,194.7 364.7,193.6 365.0,193.1 365.3,192.6 365.6,192.1 366.0,191.8 366.3,191.6 366.7,191.5 367.2,191.7 367.7,192.1 368.2,192.7 368.8,193.5 369.3,194.4 369.7,195.3 370.3,197.2 370.8,199.5 371.3,202.1 371.6,204.9 371.9,207.7 372.3,210.5 372.7,213.9 373.1,217.5 373.4,221.2 373.8,224.9 374.2,228.3 374.7,231.2 375.0,232.8 375.4,234.4 375.7,235.8 376.1,237.1 376.5,238.3 377.1,239.4 377.6,240.1 378.1,240.8 378.7,241.4 379.3,241.9 380.0,242.4 380.6,242.9 381.2,243.3 381.7,243.7 382.3,244.1 382.9,244.4 383.5,244.6 384.1,244.7 384.7,244.6 385.3,244.4 385.9,244.1 386.5,243.7 387.0,243.3 387.6,242.9 388.2,242.4 388.8,241.9 389.4,241.3 390.0,240.7 390.6,240.0 391.2,239.4 391.8,238.7 392.4,237.8 392.9,237.0 393.5,236.2 394.1,235.4 394.7,234.7 395.3,234.1 395.9,233.5 396.5,232.9 397.0,232.4 397.6,232.0 398.2,231.8 398.6,231.9 399.0,232.1 399.4,232.4 399.8,232.6 400.2,232.8 400.6,232.9 401.2,232.7 401.8,232.4 402.4,231.9 403.0,231.3 403.6,230.7 404.1,230.0 404.6,229.2 405.0,228.2 405.4,227.1 405.7,226.1 406.1,225.0 406.5,224.1 406.9,223.3 407.2,222.5 407.6,221.6 407.9,220.9 408.3,220.3 408.8,220.0 409.2,219.9 409.6,219.9 410.0,220.0 410.4,220.1 410.8,220.3 411.2,220.6 411.7,221.1 412.1,221.8 412.5,222.6 412.8,223.5 413.2,224.4 413.5,225.3 413.8,226.4 414.1,227.6 414.3,228.9 414.6,230.1 414.9,231.3 415.3,232.4 415.7,233.2 416.1,234.0 416.6,234.7 417.1,235.4 417.6,236.0 418.2,236.5 418.8,236.9 419.4,237.1 420.1,237.3 420.7,237.5 421.3,237.8 421.8,238.2 422.2,238.9 422.6,239.7 422.8,240.6 423.0,241.5 423.2,242.5 423.5,243.5 423.9,244.6 424.3,245.9 424.6,247.1 425.1,248.3 425.5,249.5 425.9,250.6 426.2,251.5 426.6,252.3 426.9,253.2 427.2,254.0 427.7,254.7 428.2,255.3 428.9,255.8 429.6,256.2 430.5,256.5 431.3,256.8 432.2,257.2 433.0,257.6 433.8,258.2 434.6,259.0 435.4,259.8 436.1,260.5 436.9,261.0 437.6,261.2 438.3,261.0 438.9,260.6 439.5,260.0 440.1,259.3 440.7,258.5 441.2,257.6 442.0,255.8 442.6,253.6 443.1,251.0 443.6,248.4 444.1,245.8 444.7,243.5 445.2,241.6 445.8,239.7 446.3,237.9 446.9,236.2 447.5,234.5 448.2,232.9 448.9,231.6 449.7,230.3 450.5,229.2 451.3,228.0 452.2,226.9 453.0,225.9 453.7,224.9 454.5,223.9 455.3,222.9 456.1,222.1 456.8,221.5 457.6,221.2 458.2,221.3 458.9,221.6 459.5,222.1 460.2,222.7 460.8,223.4 461.4,224.1 462.2,225.0 462.9,226.1 463.6,227.3 464.3,228.5 465.0,229.7 465.7,230.9 466.4,232.1 467.2,233.3 467.9,234.5 468.6,235.6 469.3,236.7 469.9,237.7 470.3,238.4 470.6,239.1 470.9,239.8 471.2,240.4 471.6,240.8 472.0,241.0 472.5,241.0 473.0,240.7 473.5,240.3 474.0,239.9 474.5,239.4 475.0,239.0 475.4,238.7 475.8,238.3 476.2,238.0 476.6,237.6 477.0,237.2 477.3,236.7 477.7,235.7 478.0,234.5 478.3,233.2 478.6,231.8 478.8,230.5 479.2,229.2 479.6,228.0 480.0,226.7 480.4,225.4 480.8,224.2 481.3,223.3 481.9,222.9 482.4,222.9 482.9,223.2 483.4,223.6 484.0,224.1 484.6,224.6 485.2,224.9 485.9,225.1 486.6,225.2 487.3,225.3 488.0,225.3 488.7,225.5 489.4,225.8 490.2,226.4 490.9,227.2 491.6,228.1 492.3,229.1 493.0,230.0 493.7,230.9 494.5,231.8 495.3,232.7 496.2,233.6 497.0,234.4 497.9,235.2 498.8,236.0 499.6,236.6 500.4,237.2 501.3,237.8 502.1,238.3 503.0,238.8 503.8,239.4 504.7,240.0 505.6,240.5 506.5,241.0 507.3,241.6 508.2,242.2 508.9,242.8 509.5,243.5 509.9,244.4 510.4,245.3 510.8,246.1 511.3,246.7 511.8,247.0 512.4,247.0 513.1,246.7 513.8,246.3 514.5,245.7 515.1,245.1 515.7,244.4 516.4,243.1 516.9,241.3 517.4,239.4 517.8,237.5 518.3,235.7 519.1,234.3 519.8,233.5 520.6,232.8 521.5,232.2 522.4,231.7 523.3,231.3 524.2,230.9 525.1,230.5 526.1,230.3 527.1,230.0 528.1,229.9 529.2,229.8 530.2,229.8 531.4,230.0 532.5,230.5 533.7,231.1 534.9,231.7 536.1,232.1 537.1,232.1 537.9,231.7 538.7,231.0 539.5,230.1 540.2,229.3 540.9,228.7 541.6,228.6 542.4,229.3 543.2,230.8 543.9,232.6 544.6,234.5 545.4,236.0 546.2,236.7 546.9,236.6 547.7,236.0 548.5,235.1 549.3,234.3 550.0,233.6 550.8,233.2 551.4,233.2 552.0,233.3 552.6,233.6 553.1,233.9 553.7,234.2 554.3,234.4" fill="none" stroke="#62ee1c" stroke-width="3.2" stroke-linejoin="round"/>
<text x="70" y="46.25" text-anchor="end" font-size="23.5">3.5</text>
<text x="70" y="102.90" text-anchor="end" font-size="23.5">2.5</text>
<text x="70" y="159.55" text-anchor="end" font-size="23.5">1.5</text>
<text x="70" y="216.20" text-anchor="end" font-size="23.5">0.5</text>
<text x="70" y="272.85" text-anchor="end" font-size="23.5">-0.5</text>
<text x="70" y="329.50" text-anchor="end" font-size="23.5">-1.5</text>
<text x="77.00" y="379" text-anchor="middle" font-size="23.5">0</text>
<text x="172.40" y="379" text-anchor="middle" font-size="23.5">10</text>
<text x="267.80" y="379" text-anchor="middle" font-size="23.5">20</text>
<text x="363.20" y="379" text-anchor="middle" font-size="23.5">30</text>
<text x="458.60" y="379" text-anchor="middle" font-size="23.5">40</text>
<text x="554.00" y="379" text-anchor="middle" font-size="23.5">50</text>
<text x="315.5" y="411" text-anchor="middle" font-size="25.7">Time(s)</text>
<text transform="translate(18.8,181.5) rotate(-90)" text-anchor="middle" font-size="25.7">Fuselage velocities(m/s)</text>
<rect x="495" y="20.4" width="50.4" height="89.9" fill="#fff" stroke="#596060" stroke-width="1.4"/>
<line x1="497.7" y1="36" x2="511.3" y2="36" stroke="#1c30de" stroke-width="3.2"/>
<line x1="497.7" y1="65" x2="511.3" y2="65" stroke="#e20a12" stroke-width="3.2"/>
<line x1="514.6" y1="65" x2="521" y2="65" stroke="#e20a12" stroke-width="3.2"/>
<line x1="497.7" y1="94.4" x2="522.8" y2="94.4" stroke="#62ee1c" stroke-width="3.2"/>
<text x="525" y="45.5" font-size="23.5">u</text>
<text x="525" y="74.5" font-size="23.5">v</text>
<text x="525" y="103.9" font-size="23.5">w</text>
</svg>
</body></html>
